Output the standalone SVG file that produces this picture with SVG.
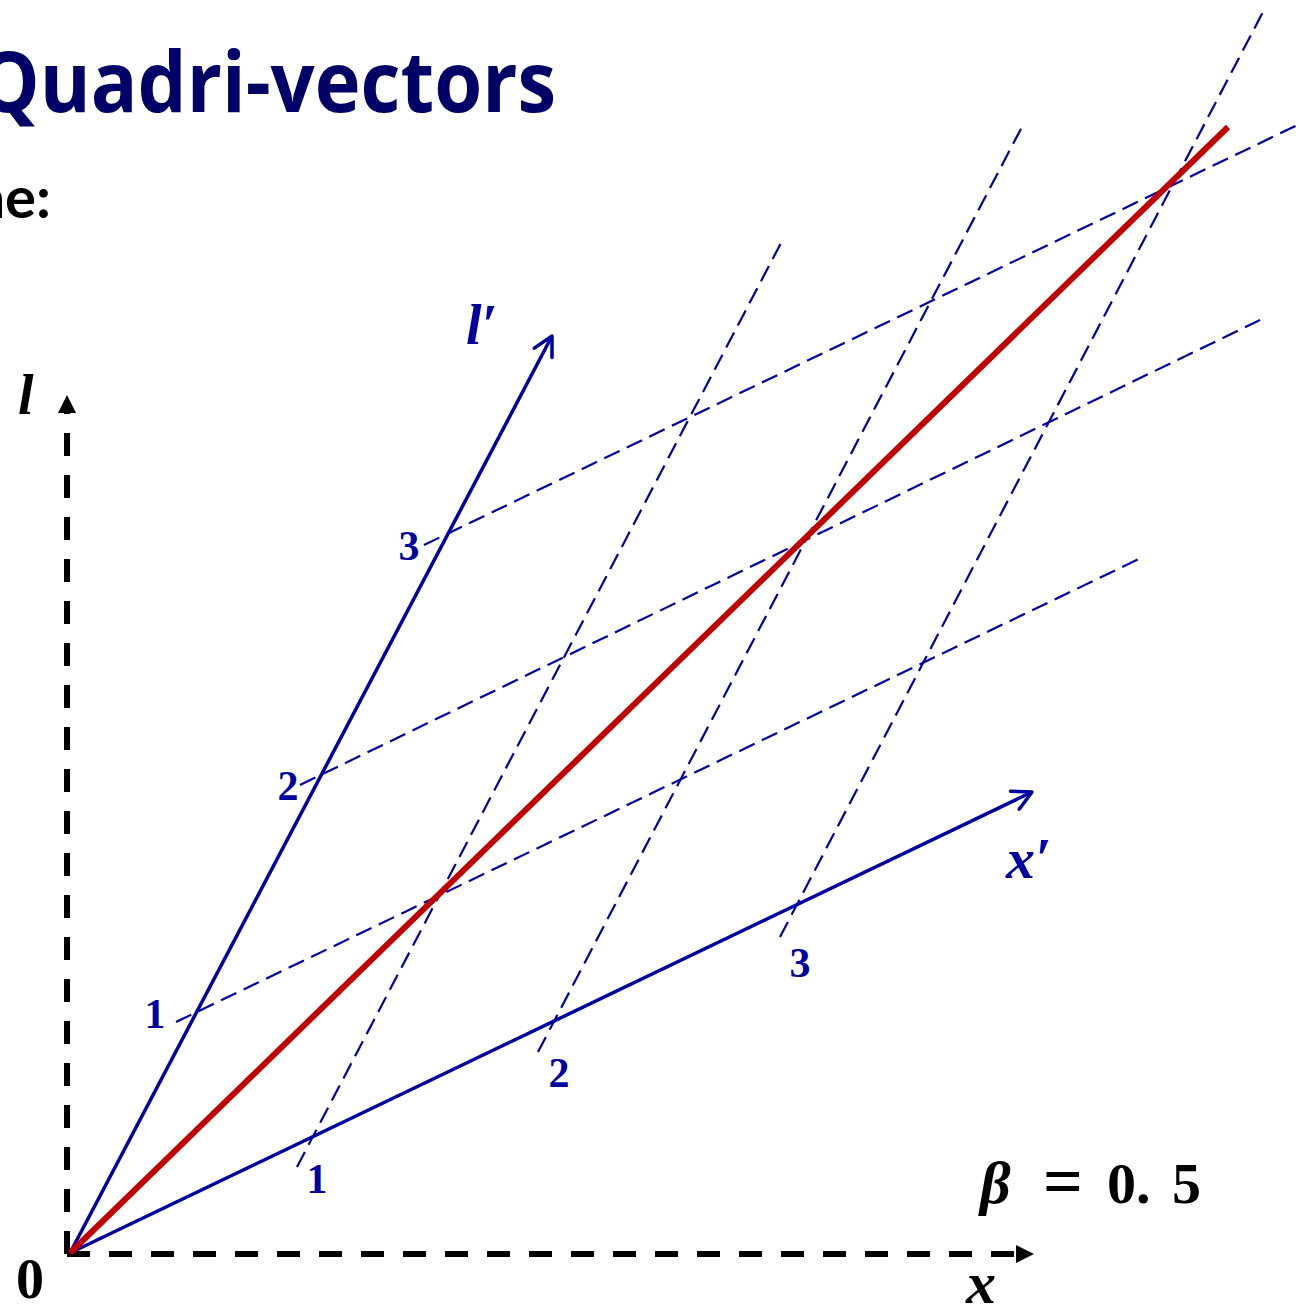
<svg xmlns="http://www.w3.org/2000/svg" width="1299" height="1316" viewBox="0 0 1299 1316">
  <style>
    .title { font-family: "Open Sans", Lato, sans-serif; font-weight: bold; fill: #000066; }
    .sub { font-family: Lato, "Open Sans", sans-serif; font-weight: bold; fill: #000000; }
    .math { font-family: "Liberation Serif", "DejaVu Serif", serif; font-weight: bold; }
    .it { font-style: italic; }
    .blue { fill: #0000A0; }
    .black { fill: #000000; }
    .axis { stroke: #000000; stroke-width: 6; stroke-dasharray: 23 19; fill: none; }
    .prime { stroke: #0000A0; stroke-width: 3.5; fill: none; }
    .grid { stroke: #0000A0; stroke-width: 2.2; stroke-dasharray: 17 8; fill: none; }
    .world { stroke: #C00000; stroke-width: 6; fill: none; }
  </style>
  <defs>
    <marker id="tri" viewBox="0 0 18 18" refX="0" refY="9" markerWidth="18" markerHeight="18" markerUnits="userSpaceOnUse" orient="auto">
      <path d="M0,0 L18,9 L0,18 Z" fill="#000000"/>
    </marker>
    <marker id="chev" viewBox="-22 -12 26 24" refX="0" refY="0" markerWidth="26" markerHeight="24" markerUnits="userSpaceOnUse" orient="auto">
      <path d="M-19,-10 L0,0 L-19,10" fill="none" stroke="#0000A0" stroke-width="3.5" stroke-linecap="round" stroke-linejoin="round"/>
    </marker>
  </defs>

  <g id="title">
    <text class="title" x="-22" y="112" font-size="84" textLength="578" lengthAdjust="spacingAndGlyphs">Quadri-vectors</text>
    <text class="sub" x="51" y="218" font-size="58" text-anchor="end">ne:</text>
  </g>

  <g id="connectors">
    <line class="grid" x1="297" y1="1167" x2="781" y2="243"/>
    <line class="grid" x1="538" y1="1052" x2="1024" y2="123"/>
    <line class="grid" x1="780" y1="937" x2="1264" y2="10"/>
    <line class="grid" x1="176" y1="1022" x2="1143" y2="557"/>
    <line class="grid" x1="300" y1="785" x2="1260" y2="320"/>
    <line class="grid" x1="424" y1="545" x2="1310" y2="119"/>
    <line class="axis" x1="67" y1="1254" x2="67" y2="413" marker-end="url(#tri)"/>
    <line class="axis" x1="67" y1="1254" x2="1016" y2="1254" marker-end="url(#tri)"/>
    <line class="prime" x1="70" y1="1253" x2="552" y2="336" marker-end="url(#chev)"/>
    <line class="prime" x1="70" y1="1253" x2="1032" y2="792" marker-end="url(#chev)"/>
    <line class="world" x1="70" y1="1253" x2="1228" y2="127"/>
  </g>

  <g id="axis-l">
    <text class="math it black" x="18" y="414" font-size="56">l</text>
  </g>
  <g id="axis-x">
    <text class="math it black" x="966" y="1303" font-size="60">x</text>
  </g>
  <g id="origin">
    <text class="math black" x="16" y="1298" font-size="56">0</text>
  </g>
  <g id="beta">
    <text class="math black" y="1203"><tspan class="it" x="980" font-size="60">β</tspan><tspan x="1043" font-size="70" dy="2">=</tspan><tspan x="1107" font-size="58" dy="-2">0.</tspan><tspan x="1172" font-size="58">5</tspan></text>
  </g>
  <g id="axis-lprime">
    <text class="math it blue" x="466" y="344" font-size="56">l′</text>
  </g>
  <g id="axis-xprime">
    <text class="math it blue" x="1006" y="878" font-size="58">x′</text>
  </g>
  <g id="ticks-x">
    <text class="math blue" x="317" y="1193" font-size="42" text-anchor="middle">1</text>
    <text class="math blue" x="559" y="1087" font-size="42" text-anchor="middle">2</text>
    <text class="math blue" x="800" y="977" font-size="42" text-anchor="middle">3</text>
  </g>
  <g id="ticks-l">
    <text class="math blue" x="155" y="1028" font-size="42" text-anchor="middle">1</text>
    <text class="math blue" x="288" y="800" font-size="42" text-anchor="middle">2</text>
    <text class="math blue" x="409" y="560" font-size="42" text-anchor="middle">3</text>
  </g>
</svg>
